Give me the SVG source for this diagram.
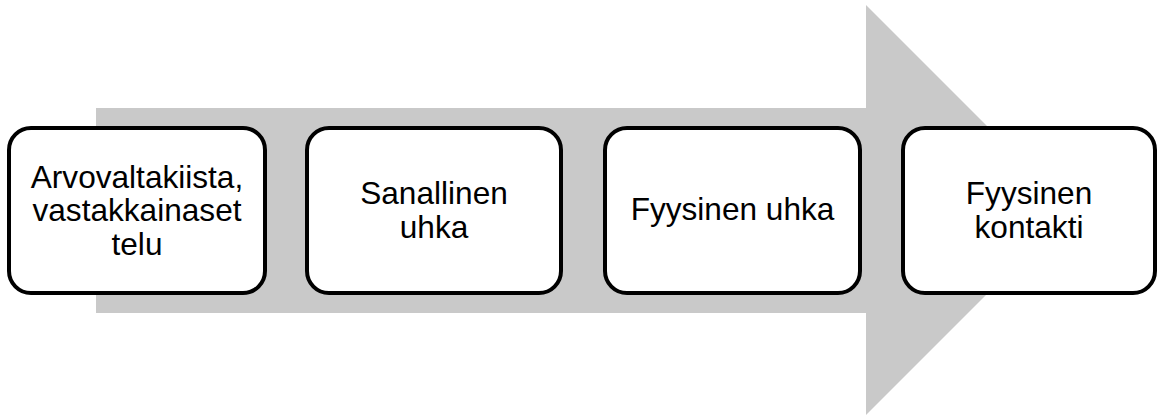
<svg xmlns="http://www.w3.org/2000/svg" width="1161" height="416" viewBox="0 0 1161 416">
  <style>
    .step { fill: #ffffff; stroke: #000000; stroke-width: 4; }
    .label { font-family: "Liberation Sans", Arial, sans-serif; font-size: 31.6px; fill: #000000; text-anchor: middle; }
  </style>
  <rect width="1161" height="416" fill="#ffffff"/>
  <!-- background process arrow -->
  <g id="connectors">
    <polygon points="96,108 866,108 866,5 1071,210 866,415 866,313 96,313" fill="#c9c9c9"/>
  </g>
  <g id="step1">
    <rect class="step" x="9" y="128" width="256" height="165" rx="22" ry="22"/>
    <text class="label" x="137" y="187.5">Arvovaltakiista,</text>
    <text class="label" x="137" y="221">vastakkainaset</text>
    <text class="label" x="137" y="254.5">telu</text>
  </g>
  <g id="step2">
    <rect class="step" x="307" y="128" width="254" height="165" rx="22" ry="22"/>
    <text class="label" x="434" y="203.5">Sanallinen</text>
    <text class="label" x="434" y="237.5">uhka</text>
  </g>
  <g id="step3">
    <rect class="step" x="605" y="128" width="255" height="165" rx="22" ry="22"/>
    <text class="label" x="732.5" y="220">Fyysinen uhka</text>
  </g>
  <g id="step4">
    <rect class="step" x="903" y="128" width="252" height="165" rx="22" ry="22"/>
    <text class="label" x="1029" y="203.5">Fyysinen</text>
    <text class="label" x="1029" y="237.5">kontakti</text>
  </g>
</svg>
